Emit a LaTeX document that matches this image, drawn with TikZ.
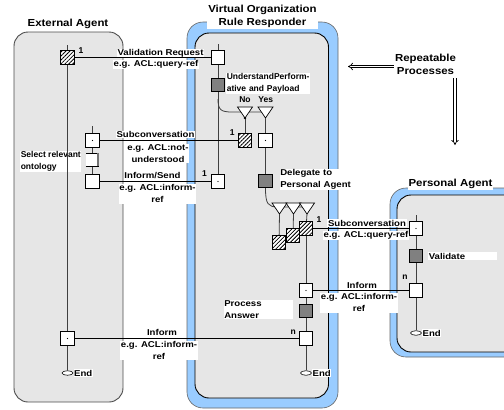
\documentclass[tikz,border=0pt]{standalone}
\usepackage{fontspec}
\setmainfont{Liberation Sans}
\newfontfamily\lblf[FakeStretch=1.13]{Liberation Sans}
\newfontfamily\ttlf[FakeStretch=1.12]{Liberation Sans}
\usetikzlibrary{patterns.meta,arrows.meta,shapes.geometric}
\definecolor{agray}{HTML}{E6E6E6}
\definecolor{ablue}{HTML}{99CCFF}
\begin{document}
\begin{tikzpicture}[x=1pt,y=-1pt,
  lbl/.style={font=\lblf\bfseries\fontsize{8.5}{12}\selectfont, fill=white, inner sep=0.6pt, align=center},
  lbln/.style={lbl, font=\bfseries\fontsize{8.5}{12}\selectfont},
  sm/.style={font=\bfseries\fontsize{8.5}{10}\selectfont, inner sep=0},
  ttl/.style={font=\ttlf\bfseries\fontsize{10.2}{13}\selectfont, inner sep=1pt, align=center},
  sq/.style={draw=black, line width=0.7pt, fill=white, minimum size=13.5pt, inner sep=0},
  dsq/.style={sq, fill=black!50},
  hsq/.style={draw=black, line width=0.7pt, minimum size=13.5pt, inner sep=0, preaction={fill=white}, pattern={Lines[angle=45,distance=2.8pt,line width=0.8pt]}},
  endst/.style={draw=black, ellipse, fill=white, minimum width=11pt, minimum height=4.5pt, inner sep=0, line width=0.6pt},
  life/.style={draw=black!75, line width=0.8pt},
  msg/.style={draw=black, line width=0.6pt},
  agentbox/.style={draw=black!70, line width=0.9pt, fill=agray, rounded corners=14pt},
  bluebox/.style={draw=black!60, line width=0.6pt, fill=ablue, rounded corners=16pt},
  innerbox/.style={draw=black, line width=0.9pt, fill=agray, rounded corners=14pt},
  dbl/.style={draw=black, double=white, double distance=1.8pt, line width=0.7pt, -{Implies}},
  forktri/.pic={\draw[fill=white, line width=0.7pt] (-7.5,-5) -- (7.5,-5) -- (0,6) -- cycle; \coordinate (-tip) at (0,6);}
]
\useasboundingbox (0,0) rectangle (504,410);
\clip (0,0) rectangle (504,410);
% boxes
\draw[agentbox] (14,32) rectangle (123,402);
\draw[bluebox] (187,22) rectangle (338,408);
\draw[innerbox] (195,33) rectangle (328.5,398);
\draw[bluebox] (390,188) rectangle (560,357);
\draw[innerbox] (397,195) rectangle (560,352);
% titles
\node[ttl] (tEA) at (68,24) {External Agent};
\node[ttl, fill=white] (tVO) at (262.5,16.5) {Virtual Organization\\Rule Responder};
\node[ttl, fill=white] (tPA) at (450.5,184) {Personal Agent};
\node[ttl] (rp) at (425.5,64) {Repeatable\\Processes};
\coordinate (rpL) at (348,66.5);
\coordinate (rpA) at (455,78);
\coordinate (rpB) at (455,145);
\draw[dbl] (rp.west |- rpL) -- (rpL);
\draw[dbl] (rpA) -- (rpB);
% labels
\node[lbl, anchor=base] (lVR1) at (160.5,55.5) {Validation Request};
\node[lbl, anchor=north] (lVR2) at (156,59.5) {e.g. ACL:query-ref};
\node[lbl, anchor=base] (lSC1) at (155.5,137.5) {Subconversation};
\node[lbl, anchor=north] (lSC2) at (158,143.5) {e.g. ACL:not-\\understood};
\node[lbl, anchor=base] (lIS1) at (152.5,178) {Inform/Send};
\node[lbl, anchor=north] (lIS2) at (157.5,184) {e.g. ACL:inform-\\ref};
\node[lbl, anchor=base] (lIN1) at (162,335) {Inform};
\node[lbl, anchor=north] (lIN2) at (159,340.5) {e.g. ACL:inform-\\ref};
\node[lbl, anchor=base] (lPS1) at (367,226) {Subconversation};
\node[lbl, anchor=north] (lPS2) at (366,231) {e.g. ACL:query-ref};
\node[lbl, anchor=base] (lPI1) at (362,288) {Inform};
\node[lbl, anchor=north] (lPI2) at (359,293) {e.g. ACL:inform-\\ref};
\node[lbln, anchor=north west, align=left, text width=83pt] (lUP) at (226,72.5) {UnderstandPerform-\\ative and Payload};
\node[lbl, anchor=north west, align=left, text width=82pt] (lDP) at (279.5,168.5) {Delegate to\\Personal Agent};
\node[lbl, anchor=north west, align=left, text width=68pt] (lPr) at (223.5,300) {Process\\Answer};
\node[lbl, anchor=west, align=left, text width=68pt] (lVa) at (428,256) {Validate};
\node[lbln, anchor=north west, align=left] (lSR) at (20,151) {Select relevant\\ontology};
% small labels
\node[sm] (o1) at (81,50.5) {1};
\node[sm] (o2) at (204.5,173.3) {1};
\node[sm] (o3) at (232.3,132.3) {1};
\node[sm] (o4) at (319,220) {1};
\node[sm] (nn1) at (293.3,332.7) {n};
\node[sm] (nn2) at (405,277.3) {n};
\node[sm] (lNo) at (245,100) {No};
\node[sm] (lYes) at (265.7,100) {Yes};
% lifeline anchors
\coordinate (ea0) at (67.5,45);
\coordinate (eb0) at (92.5,126);
\coordinate (va0) at (218,44);
\coordinate (pa0) at (416,215);
\coordinate (br1) at (218,99);
% nodes (squares)
\node[hsq] (ea1) at (67.5,57.5) {};
\node[sq] (ea2) at (67.5,338.5) {};
\node[endst] (eaE) at (67.5,373) {};
\node[sq] (eb1) at (92.5,140.5) {};
\node[inner sep=0, minimum width=13pt, minimum height=13pt] (eb2) at (92.5,159.5) {};
\node[sq] (eb3) at (92.5,181.5) {};
\node[sq] (va1) at (218,57.5) {};
\node[dsq] (va2) at (218,85) {};
\node[sq] (va3) at (218,181.5) {};
\node[hsq] (hNo) at (245,140.5) {};
\node[sq] (ys) at (265.5,140.5) {};
\node[dsq] (vd) at (265.5,181) {};
\node[hsq] (h1) at (279,242.5) {};
\node[hsq] (h2) at (293,235.5) {};
\node[hsq] (h3) at (306,228.5) {};
\node[sq] (vc1) at (306,290.5) {};
\node[dsq] (vc2) at (306,311) {};
\node[sq] (vc3) at (306,338.5) {};
\node[endst] (vcE) at (306,373) {};
\node[sq] (pa1) at (416,228.5) {};
\node[dsq] (pa2) at (416,256) {};
\node[sq] (pa3) at (416,290.5) {};
\node[endst] (paE) at (416,333) {};
% lifelines
\draw[life] (ea0) -- (ea1) -- (ea2) -- (eaE);
\draw[life] (eb0) -- (eb1) -- (eb2) -- (eb3);
\draw[life] (va0) -- (va1) -- (va2) -- (va3);
\draw[life] (br1) .. controls (218,110) and (221,112) .. (232,112) -- (265,112);
\draw[life] (vd) .. controls (265.5,204) and (268,207) .. (278,207) -- (307,207);
\draw[life] (pa0) -- (pa1) -- (pa2) -- (pa3) -- (paE);
\draw[life] (h3) -- (vc1) -- (vc2) -- (vc3) -- (vcE);
\draw[life] (ys) -- (vd);
% forks
\pic (no) at (245,112) {forktri};
\pic (yes) at (265.5,112) {forktri};
\pic (f1) at (279.5,208) {forktri};
\pic (f2) at (293.5,208) {forktri};
\pic (f3) at (307,208) {forktri};
\draw[life] (no-tip) -- (hNo);
\fill (no-tip) circle (1.3pt);
\draw[life] (yes-tip) -- (ys);
\draw[life] (f1-tip) -- (h1);
\draw[life] (f2-tip) -- (h2);
\draw[life] (f3-tip) -- (h3);
% messages
\draw[msg] (ea1) -- (va1);
\draw[msg] (eb1) -- (hNo);
\draw[msg] (eb3) -- (va3);
\draw[msg] (ea2) -- (vc3);
\draw[msg] (h3) -- (pa1);
\draw[msg] (vc1) -- (pa3);
% redraw squares on top
\foreach \n in {ea1,hNo,h1,h2,h3}{\node[hsq] at (\n) {};}
\foreach \n in {ea2,eb1,eb3,va1,va3,ys,vc1,vc3,pa1,pa3}{\node[sq] at (\n) {};}
\foreach \n in {va2,vd,vc2,pa2}{\node[dsq] at (\n) {};}
\foreach \n in {ea2,eb1,va3,ys,vc1,pa1}{\fill (\n.center) circle (0.6pt);}
% bracket (select relevant ontology)
\fill[white] (eb2.north west) rectangle (eb2.south east);
\draw[msg] (eb2.north west) -- (eb2.north east);
\draw[msg] (eb2.south west) -- (eb2.south east);
\draw[draw=black!55, line width=2pt] ([xshift=-1.5pt]eb2.north east) -- ([xshift=-1.5pt]eb2.south east);
% end labels
\node[lbl, anchor=west] (eEA) at (eaE.east) {End};
\node[lbl, anchor=west] (eVC) at (vcE.east) {End};
\node[lbl, anchor=west] (ePA) at (paE.east) {End};
\end{tikzpicture}
\end{document}
